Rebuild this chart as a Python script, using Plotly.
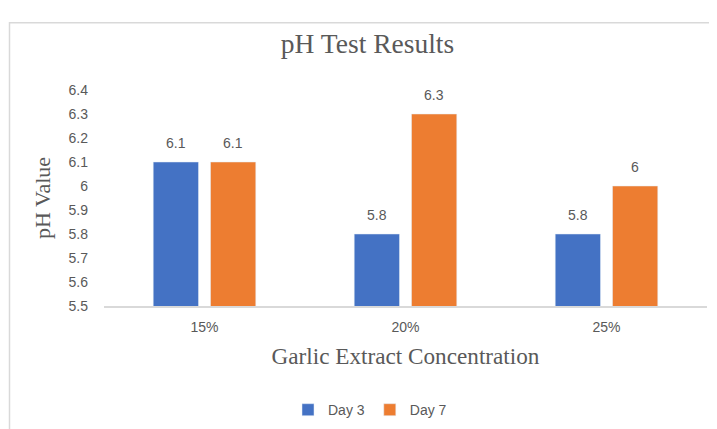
import plotly.graph_objects as go

categories = ["15%", "20%", "25%"]
day3 = [6.1, 5.8, 5.8]
day7 = [6.1, 6.3, 6.0]
day3_labels = ["6.1", "5.8", "5.8"]
day7_labels = ["6.1", "6.3", "6"]
y_ticks = [5.5, 5.6, 5.7, 5.8, 5.9, 6.0, 6.1, 6.2, 6.3, 6.4]
y_tick_text = ["5.5", "5.6", "5.7", "5.8", "5.9", "6", "6.1", "6.2", "6.3", "6.4"]

BLUE = "#4472C4"
ORANGE = "#ED7D31"
GRAY = "#595959"
SANS = "Liberation Sans"
SERIF = "Liberation Serif"

W, H = 709, 428
L, R, T, B = 96, 10, 82, 124
PW = W - L - R
PH = H - T - B

fig = go.Figure()
fig.add_trace(go.Bar(name="Day 3", x=categories, y=day3, marker_color=BLUE, base=0))
fig.add_trace(go.Bar(name="Day 7", x=categories, y=day7, marker_color=ORANGE, base=0))

annotations = []
for cat, v, t in zip(categories, day3, day3_labels):
    annotations.append(dict(x=cat, y=v, text=t, showarrow=False, xshift=-28.5,
                            yshift=19, font=dict(family=SANS, size=14, color=GRAY)))
for cat, v, t in zip(categories, day7, day7_labels):
    annotations.append(dict(x=cat, y=v, text=t, showarrow=False, xshift=28.5,
                            yshift=19, font=dict(family=SANS, size=14, color=GRAY)))

fig.update_layout(
    width=W, height=H,
    margin=dict(l=L, r=R, t=T, b=B),
    paper_bgcolor="white", plot_bgcolor="white",
    barmode="group", bargap=0.43, bargroupgap=0.21,
    title=dict(text="pH Test Results", x=(L + PW / 2 - 38) / W, xanchor="center",
               y=1 - 35 / H, yanchor="middle",
               font=dict(family=SERIF, size=27.5, color=GRAY)),
    xaxis=dict(showline=True, linecolor="#D9D9D9", linewidth=1.5,
               showgrid=False, ticks="", zeroline=False,
               ticklabelstandoff=7,
               tickfont=dict(family=SANS, size=14, color=GRAY),
               title=dict(text="Garlic Extract Concentration", standoff=14,
                          font=dict(family=SERIF, size=23.2, color=GRAY))),
    yaxis=dict(range=[5.5, 6.4], tickvals=y_ticks, ticktext=y_tick_text,
               showgrid=False, showline=False, zeroline=False, ticks="",
               ticklabelstandoff=15,
               tickfont=dict(family=SANS, size=14, color=GRAY),
               title=dict(text="pH Value", standoff=11,
                          font=dict(family=SERIF, size=22, color=GRAY))),
    legend=dict(orientation="h", x=(362 - L) / PW, xanchor="center",
                y=(T + PH - 411) / PH, yanchor="middle",
                font=dict(family=SANS, size=14, color=GRAY)),
    annotations=annotations,
    shapes=[dict(type="rect", xref="paper", yref="paper",
                 x0=(1.5 - L) / PW, x1=(W + 20 - L) / PW,
                 y0=(T + PH - H - 20) / PH, y1=(T + PH - 13) / PH,
                 line=dict(color="#D9D9D9", width=1.5), layer="below")],
)

fig.write_html("out.html")
